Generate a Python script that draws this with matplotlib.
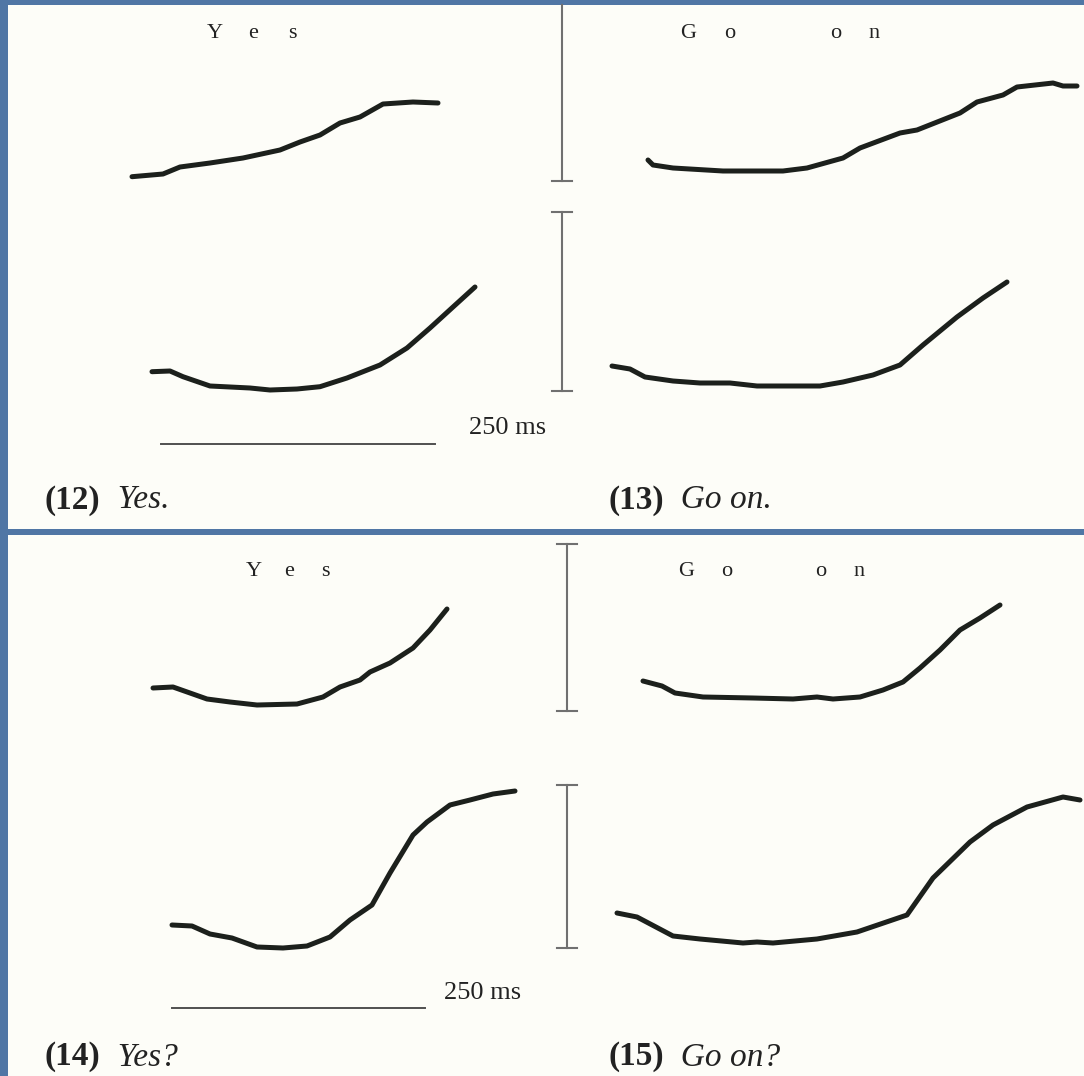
import matplotlib
matplotlib.use("Agg")
import matplotlib.pyplot as plt
from matplotlib.patches import Rectangle

# ---- contour data (x, y) ----
yes_stmt_top_x = [132, 163, 180, 210, 243, 280, 300, 320, 340, 360, 383, 413, 438]
yes_stmt_top_y = [176.7, 174, 167, 163, 158, 150, 142, 135, 123, 117, 104, 102, 103]
yes_stmt_bot_x = [152, 170, 183, 210, 250, 270, 297, 320, 347, 380, 407, 430, 453, 475]
yes_stmt_bot_y = [371.7, 371, 376.7, 386, 388, 390, 389, 386.7, 378, 365, 348, 328, 307, 287]

goon_stmt_top_x = [648, 653, 673, 723, 783, 807, 843, 860, 900, 917, 960, 977, 1003, 1017, 1053, 1063, 1077]
goon_stmt_top_y = [160, 165, 168, 171, 171, 168, 158, 148, 133, 130, 113, 102, 95, 87, 83, 86, 86]
goon_stmt_bot_x = [612, 630, 645, 673, 700, 730, 757, 820, 843, 873, 900, 923, 957, 983, 1007]
goon_stmt_bot_y = [366, 369, 377, 381, 383, 383, 386, 386, 382, 375, 365, 345, 317, 298, 282]

yes_q_top_x = [153, 173, 207, 230, 257, 297, 323, 340, 360, 370, 390, 413, 430, 447]
yes_q_top_y = [688, 687, 699, 702, 705, 704, 697, 687, 680, 672, 663, 648, 630, 609]
yes_q_bot_x = [172, 192, 210, 232, 257, 283, 307, 330, 350, 372, 390, 413, 427, 450, 470, 493, 515]
yes_q_bot_y = [925, 926, 934, 938, 947, 948, 946, 937, 920, 905, 873, 835, 822, 805, 800, 794, 791]

goon_q_top_x = [643, 662, 675, 703, 753, 793, 817, 833, 860, 883, 903, 920, 940, 960, 980, 1000]
goon_q_top_y = [681, 686, 693, 697, 698, 699, 697, 699, 697, 690, 682, 668, 650, 630, 618, 605]
goon_q_bot_x = [617, 637, 673, 700, 743, 757, 773, 817, 857, 907, 933, 970, 993, 1027, 1063, 1080]
goon_q_bot_y = [913, 917, 936, 939, 943, 942, 943, 939, 932, 915, 878, 842, 825, 807, 797, 800]

contours = [
    (yes_stmt_top_x, yes_stmt_top_y), (yes_stmt_bot_x, yes_stmt_bot_y),
    (goon_stmt_top_x, goon_stmt_top_y), (goon_stmt_bot_x, goon_stmt_bot_y),
    (yes_q_top_x, yes_q_top_y), (yes_q_bot_x, yes_q_bot_y),
    (goon_q_top_x, goon_q_top_y), (goon_q_bot_x, goon_q_bot_y),
]

# scale bars: (x, y_top, y_bottom, top_tick, bottom_tick)
vbars = [(562, 5, 181, False, True), (562, 212, 391, True, True),
         (567, 544, 711, True, True), (567, 785, 948, True, True)]
time_bars = [(161, 435, 444), (172, 425, 1008)]
time_label = "250 ms"
time_label_pos = [(469, 428), (444, 993)]

# word letters above contours
word_letters = [
    (["Y", "e", "s"], [215, 253, 292], 33),
    (["G", "o", "o", "n"], [688, 730, 836, 874], 33),
    (["Y", "e", "s"], [254, 289, 325], 572),
    (["G", "o", "o", "n"], [686, 727, 821, 859], 572),
]

captions = [("(12)", "Yes.", 45, 500), ("(13)", "Go on.", 608, 500),
            ("(14)", "Yes?", 45, 1057), ("(15)", "Go on?", 608, 1057)]

W, H = 1084, 1076
fig = plt.figure(figsize=(W / 100, H / 100), dpi=100)
fig.patch.set_facecolor("#5076a5")
ax = fig.add_axes([0, 0, 1, 1])
ax.set_xlim(0, W)
ax.set_ylim(H, 0)
ax.axis("off")

panel_color = "#fdfdf8"
ax.add_patch(Rectangle((8, 5), W - 8, 524, facecolor=panel_color, edgecolor="none", zorder=0))
ax.add_patch(Rectangle((8, 535), W - 8, H - 535, facecolor=panel_color, edgecolor="none", zorder=0))

for xs, ys in contours:
    ax.plot(xs, ys, color="#1c201c", lw=3.6, solid_capstyle="round", solid_joinstyle="round", zorder=3)

for x, y0, y1, tt, bt in vbars:
    ax.plot([x, x], [y0, y1], color="#707070", lw=1.5, zorder=2)
    if tt:
        ax.plot([x - 10, x + 10], [y0, y0], color="#707070", lw=1.5, zorder=2)
    if bt:
        ax.plot([x - 10, x + 10], [y1, y1], color="#707070", lw=1.5, zorder=2)

for x0, x1, y in time_bars:
    ax.plot([x0, x1], [y, y], color="#505050", lw=1.4, zorder=2)
for x, y in time_label_pos:
    ax.text(x, y, time_label, fontsize=19, family="Liberation Serif", color="#222222",
            ha="left", va="center")

for letters, xs, y in word_letters:
    for ch, x in zip(letters, xs):
        ax.text(x, y, ch, fontsize=16, family="Liberation Serif", color="#222222",
                ha="center", va="center")

for num, word, x, y in captions:
    t = ax.text(x, y, num, fontsize=24, family="Liberation Serif", weight="bold",
                color="#222222", ha="left", va="center")
    ax.annotate("  " + word, xycoords=t, xy=(1, 0), va="bottom", fontsize=24,
                family="Liberation Serif", style="italic", color="#222222")

fig.savefig("out.png", dpi=100, facecolor=fig.get_facecolor())
